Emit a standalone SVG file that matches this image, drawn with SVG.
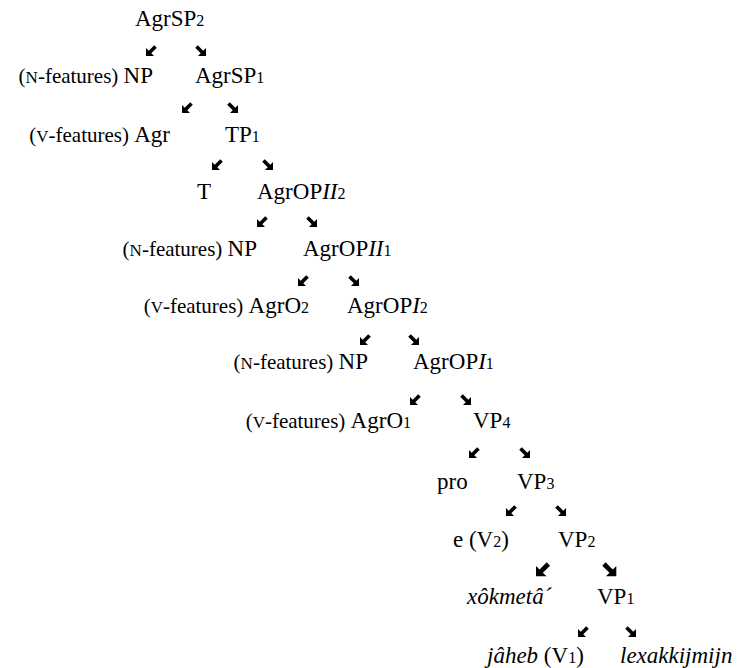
<svg xmlns="http://www.w3.org/2000/svg" xmlns:xlink="http://www.w3.org/1999/xlink" width="747" height="668" viewBox="0 0 747 668">
<style>
text{font-family:'Liberation Serif','Times New Roman',Tinos,'DejaVu Serif','Noto Serif',serif;font-size:23px;fill:#000}
.d{font-size:16px}
.f{font-size:21px}
.sc{font-size:17px}
.i{font-style:italic}
.ar{fill:#000}
</style>
<defs>
<path id="dl" d="M10.8,2.8 L8.2,0.2 L2.73,5.73 L0,3 L0,11 L8,11 L5.27,8.27 Z"/>
<path id="dr" d="M0.2,2.8 L2.8,0.2 L8.27,5.73 L11,3 L11,11 L3,11 L5.73,8.27 Z"/>
</defs>
<rect width="747" height="668" fill="#fff"/>
<g id="connectors" class="ar">
<use xlink:href="#dl" transform="translate(146,45)"/>
<use xlink:href="#dr" transform="translate(195,45)"/>
<use xlink:href="#dl" transform="translate(182,102)"/>
<use xlink:href="#dr" transform="translate(227,102)"/>
<use xlink:href="#dl" transform="translate(212,159)"/>
<use xlink:href="#dr" transform="translate(262,159)"/>
<use xlink:href="#dl" transform="translate(257,216)"/>
<use xlink:href="#dr" transform="translate(306,216)"/>
<use xlink:href="#dl" transform="translate(298,275)"/>
<use xlink:href="#dr" transform="translate(348,275)"/>
<use xlink:href="#dl" transform="translate(360,334)"/>
<use xlink:href="#dr" transform="translate(408,334)"/>
<use xlink:href="#dl" transform="translate(410,394)"/>
<use xlink:href="#dr" transform="translate(460,394)"/>
<use xlink:href="#dl" transform="translate(469,447)"/>
<use xlink:href="#dr" transform="translate(519,447)"/>
<use xlink:href="#dl" transform="translate(506,505)"/>
<use xlink:href="#dr" transform="translate(555,505)"/>
<use xlink:href="#dl" transform="translate(536,562) scale(1.3)"/>
<use xlink:href="#dr" transform="translate(602,562) scale(1.3)"/>
<use xlink:href="#dl" transform="translate(578,626)"/>
<use xlink:href="#dr" transform="translate(625,626)"/>
</g>
<g id="n-agrsp2"><text x="135" y="26">AgrSP<tspan class="d">2</tspan></text></g>
<g id="n-np1"><text x="153" y="83" text-anchor="end"><tspan class="f">(</tspan><tspan class="sc">N</tspan><tspan class="f">-features) </tspan>NP</text></g>
<g id="n-agrsp1"><text x="195" y="83">AgrSP<tspan class="d">1</tspan></text></g>
<g id="n-agr"><text x="170" y="142" text-anchor="end"><tspan class="f">(</tspan><tspan class="sc">V</tspan><tspan class="f">-features) </tspan>Agr</text></g>
<g id="n-tp1"><text x="225" y="142">TP<tspan class="d">1</tspan></text></g>
<g id="n-t"><text x="197" y="199">T</text></g>
<g id="n-agropii2"><text x="257" y="199">AgrOP<tspan class="i">II</tspan><tspan class="d">2</tspan></text></g>
<g id="n-np2"><text x="257" y="256" text-anchor="end"><tspan class="f">(</tspan><tspan class="sc">N</tspan><tspan class="f">-features) </tspan>NP</text></g>
<g id="n-agropii1"><text x="303" y="256">AgrOP<tspan class="i">II</tspan><tspan class="d">1</tspan></text></g>
<g id="n-agro2"><text x="309" y="313" text-anchor="end"><tspan class="f">(</tspan><tspan class="sc">V</tspan><tspan class="f">-features) </tspan>AgrO<tspan class="d">2</tspan></text></g>
<g id="n-agropi2"><text x="347" y="313">AgrOP<tspan class="i">I</tspan><tspan class="d">2</tspan></text></g>
<g id="n-np3"><text x="368" y="369" text-anchor="end"><tspan class="f">(</tspan><tspan class="sc">N</tspan><tspan class="f">-features) </tspan>NP</text></g>
<g id="n-agropi1"><text x="413" y="369">AgrOP<tspan class="i">I</tspan><tspan class="d">1</tspan></text></g>
<g id="n-agro1"><text x="411" y="428" text-anchor="end"><tspan class="f">(</tspan><tspan class="sc">V</tspan><tspan class="f">-features) </tspan>AgrO<tspan class="d">1</tspan></text></g>
<g id="n-vp4"><text x="473" y="428">VP<tspan class="d">4</tspan></text></g>
<g id="n-pro"><text x="437" y="489">pro</text></g>
<g id="n-vp3"><text x="517" y="489">VP<tspan class="d">3</tspan></text></g>
<g id="n-ev2"><text x="453" y="547">e (V<tspan class="d">2</tspan>)</text></g>
<g id="n-vp2"><text x="558" y="547">VP<tspan class="d">2</tspan></text></g>
<g id="n-xokmeta"><text class="i" x="467" y="604">xôkmetâ´</text></g>
<g id="n-vp1"><text x="597" y="604">VP<tspan class="d">1</tspan></text></g>
<g id="n-jaheb"><text x="487" y="663"><tspan class="i">jâheb</tspan> (V<tspan class="d">1</tspan>)</text></g>
<g id="n-lexakkijmijn"><text class="i" x="620" y="663">lexakkijmijn</text></g>
</svg>
